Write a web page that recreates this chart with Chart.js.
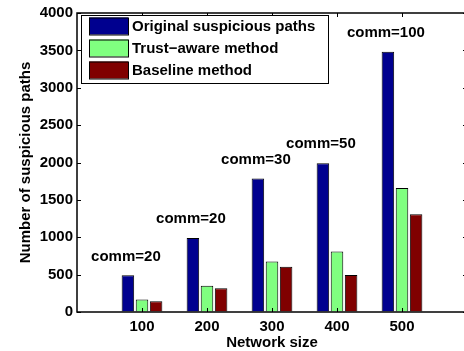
<!DOCTYPE html>
<html><head><meta charset="utf-8">
<script src="https://cdn.jsdelivr.net/npm/chart.js@4.4.0/dist/chart.umd.min.js"></script>
<style>html,body{margin:0;padding:0;background:#fff;overflow:hidden}canvas{display:block}</style>
</head><body><canvas id="c" width="473" height="351" style="width:473px;height:351px"></canvas>
<script>
const categories = ['100', '200', '300', '400', '500'];
const originalPaths = [490, 990, 1785, 1990, 3480];
const trustAware = [168, 352, 675, 808, 1660];
const baseline = [145, 318, 605, 495, 1307];
const commLabels = ['comm=20', 'comm=20', 'comm=30', 'comm=50', 'comm=100'];
const yTicks = [0, 500, 1000, 1500, 2000, 2500, 3000, 3500, 4000];
const seriesNames = ['Original suspicious paths', 'Trust\u2212aware method', 'Baseline method'];
const seriesColors = ['#00008f', '#80ff80', '#800000'];

const FAMILY = '"Liberation Sans", Arial, Helvetica, sans-serif';
const font = { family: FAMILY, size: 15, weight: 'bold', lineHeight: 1.2 };
const labels = ['', ...categories, ''];
const pad = arr => [null, ...arr, null];

function line(ctx, x1, y1, x2, y2) { ctx.beginPath(); ctx.moveTo(x1, y1); ctx.lineTo(x2, y2); ctx.stroke(); }

const decor = {
  id: 'decor',
  afterDatasetsDraw(chart) {
    const { ctx, chartArea: a, scales: { x, y } } = chart;
    ctx.save();
    ctx.strokeStyle = '#000';
    ctx.lineWidth = 1;
    yTicks.forEach(v => {
      const py = Math.round(y.getPixelForValue(v)) + 0.5;
      line(ctx, a.left, py, a.left + 4, py);
      line(ctx, a.right, py, a.right - 4, py);
    });
    categories.forEach((c, i) => {
      const px = Math.round(x.getPixelForValue(i + 1)) + 0.5;
      line(ctx, px, a.bottom, px, a.bottom - 4);
      line(ctx, px, a.top, px, a.top + 4);
    });
    ctx.lineWidth = 1.5;
    ctx.strokeRect(a.left, a.top, a.right - a.left, a.bottom - a.top);

    // comm labels
    ctx.fillStyle = '#000';
    ctx.font = 'bold 15px ' + FAMILY;
    ctx.textAlign = 'center';
    ctx.textBaseline = 'middle';
    const meta = chart.getDatasetMeta(0);
    commLabels.forEach((t, i) => {
      const bar = meta.data[i + 1];
      ctx.fillText(t, bar.x - 2, y.getPixelForValue(originalPaths[i]) - 19);
    });

    // legend
    const bx = a.left + 4, by = a.top + 2, bw = 247, bh = 68;
    ctx.fillStyle = '#fff';
    ctx.fillRect(bx, by, bw, bh);
    ctx.lineWidth = 1;
    ctx.strokeStyle = '#000';
    ctx.strokeRect(bx + 0.5, by + 0.5, bw, bh);
    ctx.textAlign = 'left';
    chart.data.datasets.forEach((ds, i) => {
      const cy = by + 11 + i * 22;
      ctx.fillStyle = ds.backgroundColor;
      ctx.fillRect(bx + 8, cy - 8.5, 39, 17);
      ctx.strokeRect(bx + 8.5, cy - 8, 39, 17);
      ctx.fillStyle = '#000';
      ctx.fillText(ds.label, bx + 51, cy + 1);
    });
    ctx.restore();
  }
};

new Chart(document.getElementById('c'), {
  type: 'bar',
  data: {
    labels,
    datasets: [
      { label: seriesNames[0], data: pad(originalPaths), backgroundColor: seriesColors[0] },
      { label: seriesNames[1], data: pad(trustAware), backgroundColor: seriesColors[1] },
      { label: seriesNames[2], data: pad(baseline), backgroundColor: seriesColors[2] }
    ].map(d => Object.assign(d, { borderColor: '#000', borderWidth: 1, categoryPercentage: 0.65, barPercentage: 0.89 }))
  },
  options: {
    responsive: false,
    animation: false,
    devicePixelRatio: 1,
    layout: { padding: { left: 0, top: 10, right: 2, bottom: 0 } },
    plugins: { legend: { display: false }, tooltip: { enabled: false } },
    scales: {
      x: {
        type: 'category',
        offset: false,
        grid: { display: true, drawOnChartArea: false, drawTicks: false, color: 'rgba(0,0,0,0)' },
        border: { display: false },
        ticks: { font, color: '#000', padding: 6, autoSkip: false, maxRotation: 0 },
        title: { display: true, text: 'Network size', font, color: '#000', padding: { top: 0, bottom: -1 } },
        afterFit(s) { s.height = 39; }
      },
      y: {
        min: 0, max: 4000,
        grid: { display: true, drawOnChartArea: false, drawTicks: false, color: 'rgba(0,0,0,0)' },
        border: { display: false },
        ticks: { stepSize: 500, font, color: '#000', padding: 4, callback: v => String(v) },
        title: { display: true, text: 'Number of suspicious paths', font, color: '#000', padding: { top: 17, bottom: 0 } },
        afterFit(s) { s.width = 77; }
      }
    }
  },
  plugins: [decor]
});
</script></body></html>
